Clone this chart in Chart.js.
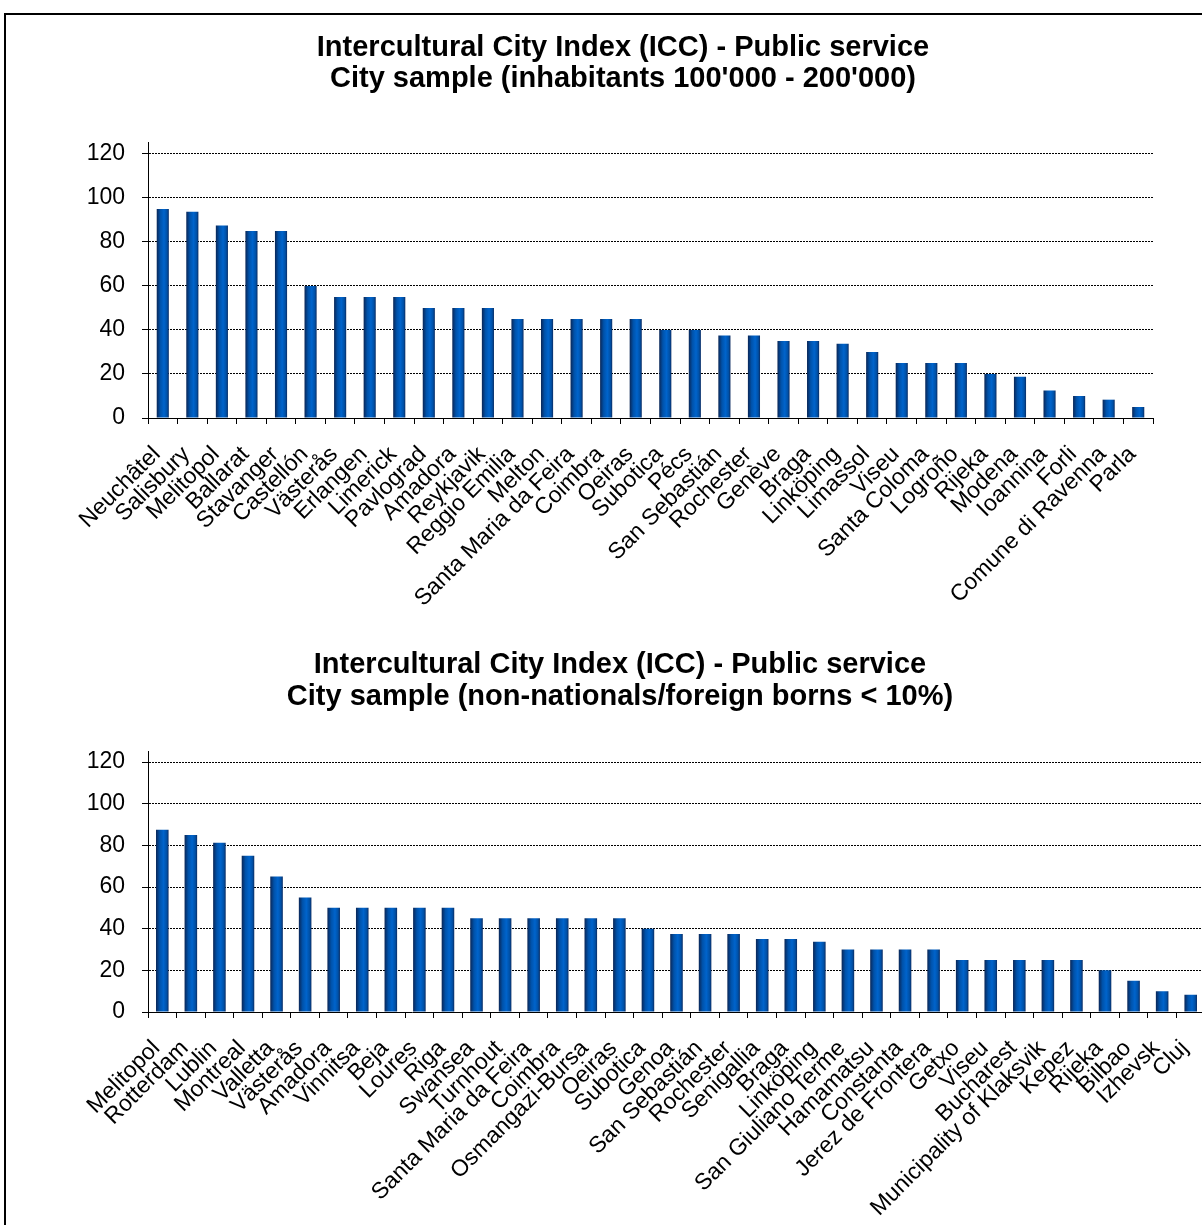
<!DOCTYPE html>
<html>
<head>
<meta charset="utf-8">
<script src="https://cdn.jsdelivr.net/npm/chart.js@4.4.0/dist/chart.umd.min.js"></script>
<style>
    body { margin: 0; background: #fff; width: 1202px; height: 1225px; overflow: hidden; position: relative; }
    #frame { position: absolute; left: 4px; top: 13px; width: 1400px; height: 1400px; border: 2px solid #000; }
    .box { position: absolute; left: 0; }
</style>
</head>
<body>
<div id="frame"></div>
<div class="box" style="top:0"><canvas id="chart1" width="1246" height="612"></canvas></div>
<div class="box" style="top:612px"><canvas id="chart2" width="1240" height="613"></canvas></div>

<script>
// Chart 1 - inhabitants 100'000 - 200'000
const title1 = ['Intercultural City Index (ICC) - Public service', "City sample (inhabitants 100'000 - 200'000)"];
const cities1 = ['Neuchâtel', 'Salisbury', 'Melitopol', 'Ballarat', 'Stavanger', 'Castellón', 'Västerås',
    'Erlangen', 'Limerick', 'Pavlograd', 'Amadora', 'Reykjavik', 'Reggio Emilia', 'Melton',
    'Santa Maria da Feira', 'Coimbra', 'Oeiras', 'Subotica', 'Pécs', 'San Sebastián', 'Rochester',
    'Genève', 'Braga', 'Linköping', 'Limassol', 'Viseu', 'Santa Coloma', 'Logroño', 'Rijeka',
    'Modena', 'Ioannina', 'Forli', 'Comune di Ravenna', 'Parla'];
const scores1 = [95, 93.75, 87.5, 85, 85, 60, 55, 55, 55, 50, 50, 50, 45, 45, 45, 45, 45, 40, 40,
    37.5, 37.5, 35, 35, 33.75, 30, 25, 25, 25, 20, 18.75, 12.5, 10, 8.33, 5];

// Chart 2 - non-nationals/foreign borns < 10%
const title2 = ['Intercultural City Index (ICC) - Public service', 'City sample (non-nationals/foreign borns < 10%)'];
const cities2 = ['Melitopol', 'Rotterdam', 'Lublin', 'Montreal', 'Valletta', 'Västerås', 'Amadora',
    'Vinnitsa', 'Beja', 'Loures', 'Riga', 'Swansea', 'Turnhout', 'Santa Maria da Feira', 'Coimbra',
    'Osmangazi-Bursa', 'Oeiras', 'Subotica', 'Genoa', 'San Sebastián', 'Rochester', 'Senigallia',
    'Braga', 'Linköping', 'San Giuliano Terme', 'Hamamatsu', 'Constanta', 'Jerez de Frontera',
    'Getxo', 'Viseu', 'Bucharest', 'Municipality of Klaksvik', 'Kepez', 'Rijeka', 'Bilbao',
    'Izhevsk', 'Cluj'];
const scores2 = [87.5, 85, 81.25, 75, 65, 55, 50, 50, 50, 50, 50, 45, 45, 45, 45, 45, 45, 40,
    37.5, 37.5, 37.5, 35, 35, 33.75, 30, 30, 30, 30, 25, 25, 25, 25, 25, 20, 15, 10, 8.33];

const yTicks = [0, 20, 40, 60, 80, 100, 120];

const FONT = "'Liberation Sans', Arial, sans-serif";

// shaded bar: dark edges, bright blue middle
function barFill(pct) {
    return (c) => {
        if (c.type !== 'data') return '#0060c0';
        const xs = c.chart.scales.x;
        if (!xs) return '#0060c0';
        const mid = xs.getPixelForValue(c.dataIndex);
        const half = xs.width / xs.getLabels().length * pct / 2;
        if (!isFinite(mid) || !isFinite(half)) return '#0060c0';
        const g = c.chart.ctx.createLinearGradient(mid - half, 0, mid + half, 0);
        g.addColorStop(0, '#0a2656');
        g.addColorStop(0.3, '#0052aa');
        g.addColorStop(0.6, '#0064cc');
        g.addColorStop(0.85, '#0050a6');
        g.addColorStop(1, '#0b2c62');
        return g;
    };
}

function makeChart(id, title, labels, values, opts) {
    return new Chart(document.getElementById(id), {
        type: 'bar',
        data: {
            labels: labels,
            datasets: [{
                data: values,
                backgroundColor: barFill(opts.pct),
                borderWidth: 0,
                categoryPercentage: opts.pct,
                barPercentage: 1
            }]
        },
        options: {
            responsive: false,
            animation: false,
            layout: { padding: 0 },
            plugins: {
                legend: { display: false },
                tooltip: { enabled: false },
                title: {
                    display: true,
                    text: title,
                    color: '#000',
                    font: { family: FONT, size: 29, weight: 'bold', lineHeight: opts.titleLine },
                    padding: { top: opts.titleTop, bottom: opts.titleBottom }
                }
            },
            scales: {
                x: {
                    afterFit: (s) => { s.height = opts.xHeight; },
                    grid: { display: true, drawOnChartArea: false, offset: true, tickLength: 6, color: '#000' },
                    border: { display: true, color: '#000', width: 1 },
                    ticks: {
                        autoSkip: false, minRotation: 45, maxRotation: 45, padding: 17, labelOffset: -6,
                        color: '#000', font: { family: FONT, size: 23 }
                    }
                },
                y: {
                    min: 0, max: 125,
                    afterFit: (s) => { s.width = 148; },
                    afterBuildTicks: (s) => { s.ticks = yTicks.map(v => ({ value: v })); },
                    grid: { color: '#000', lineWidth: 1, tickLength: 6, tickColor: '#000', tickBorderDash: [] },
                    border: { display: true, color: '#000', width: 1, dash: [2, 1] },
                    ticks: { color: '#000', padding: 17, font: { family: FONT, size: 23 } }
                },
                // empty axis on the right, only keeps room so the title stays centred on the page
                spacer: {
                    type: 'linear', position: 'right',
                    afterFit: (s) => { s.width = opts.right; },
                    grid: { display: false },
                    border: { display: false },
                    ticks: { display: false }
                }
            }
        }
    });
}

const chart1 = makeChart('chart1', title1, cities1, scores1,
    { pct: 0.41, right: 93, titleLine: 1.07, titleTop: 32.5, titleBottom: 48.4, xHeight: 194 });
const chart2 = makeChart('chart2', title2, cities2, scores2,
    { pct: 0.44, right: 35, titleLine: 1.1, titleTop: 37, titleBottom: 38.8, xHeight: 213 });
// second pass so the gradients see the finished layout
chart1.update();
chart2.update();
</script>
</body>
</html>
